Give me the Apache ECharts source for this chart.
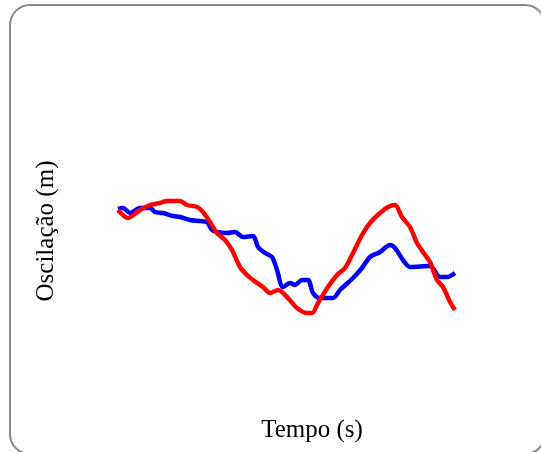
<!DOCTYPE html>
<html>
<head>
<meta charset="utf-8">
<script src="https://cdn.jsdelivr.net/npm/echarts@6/dist/echarts.min.js"></script>
<style>html,body{margin:0;padding:0;background:#fff;}#c{width:541px;height:452px;}</style>
</head>
<body>
<div id="c"></div>
<script>
// Tempo (s) and Oscilação (m) values
var blueTime = [0,0.5,1.2,2.2,3.2,3.7,4.5,5.5,6.2,7.2,8.2,8.9,9.4,9.9,10.9,11.7,12.5,13.5,14.0,14.7,15.4,15.9,16.5,17.2,17.7,18.4,19.0,19.5,20.2,21.5,22.2,23.5,24.4,25.2,26.2,27.2,27.7,28.5,29.2,31.2,32.2,32.9,33.7];
var blueOsc = [0.46,0.47,0.42,0.47,0.47,0.43,0.42,0.39,0.38,0.35,0.34,0.33,0.25,0.23,0.22,0.23,0.18,0.19,0.08,0.02,-0.02,-0.15,-0.32,-0.28,-0.30,-0.25,-0.25,-0.38,-0.43,-0.43,-0.35,-0.23,-0.13,-0.02,0.03,0.10,0.07,-0.05,-0.12,-0.11,-0.22,-0.22,-0.18];
var redTime = [0,1.0,2.2,3.2,4.2,4.9,6.2,6.9,7.9,8.5,9.2,9.9,10.7,11.4,12.2,12.9,13.5,14.5,15.2,16.0,16.9,17.9,18.9,19.4,20.0,21.0,21.9,22.7,23.4,24.4,25.2,26.2,27.0,27.7,28.4,29.2,29.9,30.5,31.2,31.9,32.5,33.2,33.7];
var redOsc = [0.45,0.37,0.45,0.50,0.52,0.54,0.54,0.50,0.48,0.43,0.33,0.22,0.15,0.05,-0.12,-0.20,-0.25,-0.32,-0.38,-0.35,-0.42,-0.53,-0.58,-0.58,-0.48,-0.32,-0.20,-0.13,0.00,0.20,0.32,0.42,0.48,0.50,0.38,0.28,0.12,0.03,-0.07,-0.25,-0.32,-0.47,-0.55];
var xTitle = 'Tempo (s)';
var yTitle = 'Oscilação (m)';

function pairs(t, v) { return t.map(function (x, i) { return [x, v[i]]; }); }

var chart = echarts.init(document.getElementById('c'), null, {renderer: 'canvas'});
chart.setOption({
  animation: false,
  backgroundColor: '#ffffff',
  grid: {left: 118, right: 86, top: 155, bottom: 97},
  xAxis: {type: 'value', min: 0, max: 33.7, show: false},
  yAxis: {type: 'value', min: -1, max: 1, show: false},
  graphic: [
    {type: 'rect', shape: {x: 10, y: 5, width: 535, height: 449, r: 20},
     style: {fill: 'none', stroke: '#888888', lineWidth: 2}, silent: true},
    {type: 'text', x: 312, y: 430,
     style: {text: xTitle, font: '25px "Liberation Serif", serif', fill: '#000', textAlign: 'center', textVerticalAlign: 'middle'}},
    {type: 'text', x: 46, y: 231, rotation: Math.PI / 2,
     style: {text: yTitle, font: '25px "Liberation Serif", serif', fill: '#000', textAlign: 'center', textVerticalAlign: 'middle'}}
  ],
  series: [
    {type: 'line', data: pairs(blueTime, blueOsc), showSymbol: false, smooth: 0.3,
     lineStyle: {color: '#0000ff', width: 4.5}},
    {type: 'line', data: pairs(redTime, redOsc), showSymbol: false, smooth: 0.3,
     lineStyle: {color: '#ff0000', width: 4.5}}
  ]
});
</script>
</body>
</html>
